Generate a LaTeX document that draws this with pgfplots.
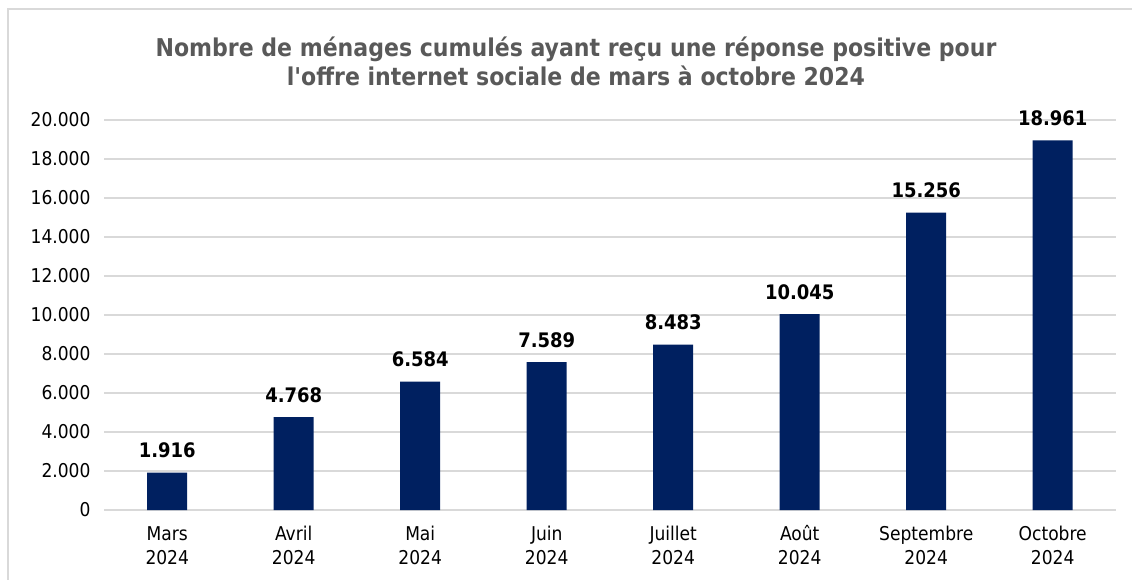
\documentclass[border=0pt]{standalone}
\usepackage{pgfplots}
\pgfplotsset{compat=1.18}
\usepackage{fontspec}
\setmainfont{DejaVu Sans Condensed}
\definecolor{barblue}{HTML}{002060}
\definecolor{titlegray}{HTML}{595959}
\definecolor{gridgray}{HTML}{D9D9D9}
\newcommand{\tl}[1]{\vphantom{Aû}#1\\2024}
\begin{document}
\begin{tikzpicture}[x=1pt,y=1pt]
\useasboundingbox (0,0) rectangle (1132,579);
\draw[gridgray, line width=1.2pt] (8,-2) -- (8,570) -- (1134,570);
\node[font=\bfseries\fontsize{24.5}{29}\selectfont, text=titlegray, align=center] at (576,518) {Nombre de ménages cumulés ayant reçu une réponse positive pour\\l\textquotesingle offre internet sociale de mars à octobre 2024};
\begin{axis}[
  at={(104pt,69pt)}, anchor=south west,
  scale only axis, width=1012pt, height=390pt,
  xmin=-0.5, xmax=7.5, ymin=0, ymax=20000,
  ytick distance=2000,
  xtick=data,
  xticklabels={{\tl{Mars}},{\tl{Avril}},{\tl{Mai}},{\tl{Juin}},{\tl{Juillet}},{\tl{Août}},{\tl{Septembre}},{\tl{Octobre}}},
  xticklabel style={align=center, font=\fontsize{19}{24}\selectfont},
  yticklabel style={font=\fontsize{19}{24}\selectfont},
  /pgf/number format/assume math mode=true,
  /pgf/number format/1000 sep={.},
  /pgf/number format/fixed,
  scaled y ticks=false,
  major tick length=0pt,
  axis line style={draw=none},
  ymajorgrids, grid style={gridgray, line width=1.2pt},
  ybar, bar width=40pt,
  nodes near coords,
  every node near coord/.append style={font=\bfseries\fontsize{20}{24}\selectfont, text=black, yshift=11pt},
  xtick pos=bottom, ytick pos=left,
  yticklabel shift=10pt, xticklabel shift=12pt,
]
\addplot[fill=barblue, draw=none] coordinates {(0,1916) (1,4768) (2,6584) (3,7589) (4,8483) (5,10045) (6,15256) (7,18961)};
\end{axis}
\end{tikzpicture}
\end{document}
